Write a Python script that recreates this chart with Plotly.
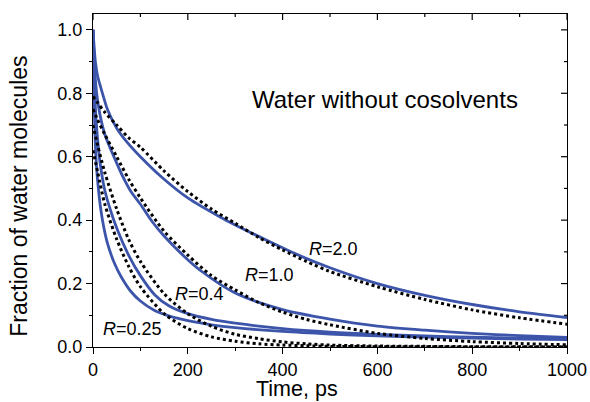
import plotly.graph_objects as go

# Time axis samples (ps) and survival fractions for each R
t_r20 = [0, 5, 10, 20, 31, 50, 74, 100, 144, 200, 268, 300, 373, 430, 500, 600, 700, 800, 900, 1000]
sim_r20 = [1.0, 0.90, 0.853, 0.80, 0.747, 0.69, 0.642, 0.60, 0.537, 0.47, 0.41, 0.385, 0.332, 0.292, 0.25, 0.20, 0.163, 0.134, 0.111, 0.093]

t_r10 = [0, 3, 7, 12, 17, 25, 38, 50, 63, 80, 100, 125, 150, 200, 226, 300, 400, 500, 600, 700, 800, 900, 1000]
sim_r10 = [1.0, 0.89, 0.81, 0.755, 0.716, 0.67, 0.621, 0.58, 0.537, 0.49, 0.45, 0.395, 0.35, 0.275, 0.242, 0.17, 0.118, 0.088, 0.066, 0.053, 0.043, 0.036, 0.030]

t_r04 = [0, 2, 4, 6, 10, 15, 24, 35, 50, 75, 100, 130, 160, 200, 250, 300, 400, 500, 600, 700, 800, 900, 1000]
sim_r04 = [1.0, 0.87, 0.79, 0.73, 0.65, 0.58, 0.50, 0.44, 0.375, 0.29, 0.225, 0.165, 0.13, 0.105, 0.087, 0.075, 0.058, 0.047, 0.040, 0.035, 0.031, 0.028, 0.026]

t_r025 = [0, 1, 2, 4, 7, 10, 15, 20, 30, 45, 60, 80, 100, 130, 160, 200, 250, 300, 400, 500, 600, 700, 800, 900, 1000]
sim_r025 = [1.0, 0.88, 0.80, 0.68, 0.58, 0.52, 0.45, 0.40, 0.33, 0.265, 0.22, 0.175, 0.145, 0.115, 0.098, 0.083, 0.070, 0.061, 0.049, 0.041, 0.035, 0.031, 0.028, 0.025, 0.023]

# Single-exponential fits
t_fit = [0, 10, 25, 50, 75, 100, 150, 200, 250, 300, 350, 400, 450, 500, 600, 700, 800, 900, 1000]
fit_r20 = [0.79, 0.77, 0.74, 0.70, 0.66, 0.63, 0.555, 0.49, 0.435, 0.39, 0.345, 0.306, 0.27, 0.238, 0.19, 0.15, 0.117, 0.092, 0.072]
fit_r10 = [0.75, 0.715, 0.67, 0.60, 0.53, 0.47, 0.365, 0.29, 0.225, 0.18, 0.14, 0.11, 0.087, 0.07, 0.043, 0.027, 0.017, 0.011, 0.007]
fit_r04 = [0.70, 0.635, 0.55, 0.435, 0.34, 0.27, 0.168, 0.105, 0.065, 0.040, 0.026, 0.016, 0.010, 0.006, 0.003, 0.002, 0.001, 0.0005, 0.0003]
fit_r025 = [0.62, 0.55, 0.45, 0.34, 0.255, 0.19, 0.105, 0.058, 0.032, 0.018, 0.010, 0.006, 0.004, 0.002, 0.001, 0.0005, 0.0003, 0.0002, 0.0001]

# Curve labels: text, x (ps), y (fraction)
label_text = ["<i>R</i>=2.0", "<i>R</i>=1.0", "<i>R</i>=0.4", "<i>R</i>=0.25"]
label_x = [451, 317, 169, 17]
label_y = [0.308, 0.226, 0.166, 0.058]

x_ticks = [0, 200, 400, 600, 800, 1000]
x_minor = [100, 300, 500, 700, 900]
y_ticks = [0.0, 0.2, 0.4, 0.6, 0.8, 1.0]
y_minor = [0.1, 0.3, 0.5, 0.7, 0.9]

BLUE = "#3C55AA"
FONT = "Arial, Liberation Sans, sans-serif"

fig = go.Figure()

for tt, yy in [(t_r20, sim_r20), (t_r10, sim_r10), (t_r04, sim_r04), (t_r025, sim_r025)]:
    fig.add_trace(go.Scatter(x=tt, y=yy, mode="lines",
                             line=dict(color=BLUE, width=2.8, shape="spline", smoothing=0.8),
                             showlegend=False, hoverinfo="skip"))

for yy in [fit_r20, fit_r10, fit_r04, fit_r025]:
    fig.add_trace(go.Scatter(x=t_fit, y=yy, mode="lines",
                             line=dict(color="black", width=3, dash="3px,3px", shape="spline", smoothing=0.8),
                             showlegend=False, hoverinfo="skip"))

for txt, lx, ly in zip(label_text, label_x, label_y):
    fig.add_annotation(x=lx, y=ly, text=txt, showarrow=False, xanchor="left", yanchor="middle",
                       font=dict(size=18, color="black", family=FONT))

fig.add_annotation(x=331, y=0.779, text="Water without cosolvents", showarrow=False,
                   xanchor="left", yanchor="middle", font=dict(size=24, color="black", family=FONT))

# axis titles
fig.add_annotation(xref="paper", yref="paper", x=0.43, y=-0.084, text="Time, ps", showarrow=False,
                   xanchor="center", yanchor="top", font=dict(size=21.5, color="black", family=FONT))
fig.add_annotation(xref="paper", yref="paper", x=-0.155, y=0.453, text="Fraction of water molecules",
                   showarrow=False, textangle=-90, xanchor="center", yanchor="middle",
                   font=dict(size=23, color="black", family=FONT))

# inward ticks on the top and right frame edges
tick_line = dict(color="black", width=1.2)
for xv, ln in [(v, 6) for v in x_ticks] + [(v, 3) for v in x_minor]:
    fig.add_shape(type="line", xref="x", yref="paper", ysizemode="pixel", yanchor=1,
                  x0=xv, x1=xv, y0=0, y1=-ln, line=tick_line)
for yv, ln in [(v, 6) for v in y_ticks] + [(v, 3) for v in y_minor]:
    fig.add_shape(type="line", xref="paper", yref="y", xsizemode="pixel", xanchor=1,
                  x0=0, x1=-ln, y0=yv, y1=yv, line=tick_line)

axis_common = dict(showgrid=False, zeroline=False, linecolor="black", linewidth=1.3,
                   tickcolor="black", tickwidth=1.2, automargin=False,
                   tickfont=dict(size=18, color="black", family=FONT))

fig.update_layout(
    width=590, height=402,
    margin=dict(l=93, r=23, t=14, b=55),
    paper_bgcolor="white", plot_bgcolor="white",
    xaxis=dict(range=[0, 1000], tickvals=x_ticks, ticks="outside", ticklen=6,
               showline=True, mirror=True,
               minor=dict(tickvals=x_minor, ticks="outside", ticklen=3, tickcolor="black", tickwidth=1.2),
               **axis_common),
    yaxis=dict(range=[0, 1.05], tickvals=y_ticks, tickformat=".1f", ticks="outside", ticklen=6,
               showline=True, mirror=True,
               minor=dict(tickvals=y_minor, ticks="outside", ticklen=3, tickcolor="black", tickwidth=1.2),
               **axis_common),
)

fig.write_html("out.html")
